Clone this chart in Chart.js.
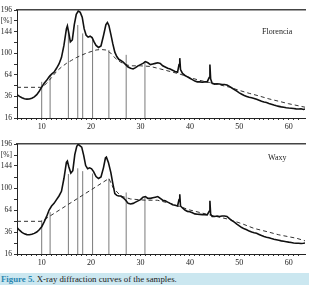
<!DOCTYPE html>
<html>
<head>
<meta charset="utf-8">
<script src="https://cdn.jsdelivr.net/npm/chart.js@4/dist/chart.umd.min.js"></script>
<style>
  html, body { margin: 0; padding: 0; background: #ffffff; }
  body { width: 309px; height: 285px; position: relative; overflow: hidden; font-family: 'Liberation Serif', serif; }
  .box { position: absolute; left: 0; width: 309px; }
  .name { position: absolute; font-size: 8px; color: #222; font-family: 'Liberation Serif', serif; }
  #caption { position: absolute; left: 0; top: 273px; width: 309px; height: 12px; background: #cbe7f0;
             font-size: 8.8px; line-height: 12px; color: #1a1a1a; padding-left: 1px; box-sizing: border-box; white-space: nowrap; }
  #caption b { color: #2a86b0; font-weight: bold; }
</style>
</head>
<body>
<div class="box" style="top:0;height:136px;"><canvas id="c1"></canvas></div>
<div class="box" style="top:134px;height:136px;"><canvas id="c2"></canvas></div>
<div class="name" style="left:262px;top:27px;">Florencia</div>
<div class="name" style="left:268px;top:153px;">Waxy</div>
<div id="caption"><b>Figure 5.</b> X-ray diffraction curves of the samples.</div>
<script>
// ---- data (2θ in degrees, intensity in %) ----
const angleFlorencia = [5.0,5.5,6.0,6.5,7.0,7.5,8.0,8.5,9.0,9.5,10.0,10.5,11.0,11.5,12.0,12.5,13.0,13.5,14.0,14.5,15.0,15.2,15.5,15.8,16.2,16.6,17.0,17.4,17.8,18.2,18.6,19.0,19.4,19.8,20.2,20.6,21.0,21.5,22.0,22.5,23.0,23.3,23.6,24.0,24.4,24.8,25.2,25.6,26.0,26.5,27.0,27.5,28.0,28.5,29.0,29.5,30.0,30.5,31.0,31.5,32.0,32.5,33.0,33.5,34.0,34.5,35.0,35.5,36.0,36.5,37.0,37.5,37.8,37.95,38.1,38.5,39.0,39.5,40.0,40.5,41.0,41.5,42.0,42.5,43.0,43.5,43.9,44.05,44.2,44.5,45.0,45.5,46.0,46.5,47.0,47.5,48.0,48.5,49.0,49.5,50.0,50.5,51.0,51.5,52.0,52.5,53.0,53.5,54.0,54.5,55.0,55.5,56.0,56.5,57.0,57.5,58.0,58.5,59.0,59.5,60.0,60.5,61.0,61.5,62.0,62.5,63.0,63.3];
const intensityFlorencia = [38,36,34.5,33.5,33,33.2,34,35.5,38,42,47,52,56,61,65,68,74,81,92,115,150,157,140,122,126,160,185,193,190,178,150,136,132,134,131,122,115,111,114,135,160,165,158,138,118,102,94,89,87,84,80,76,74,73,75,78,80,82,85,83,80,81,82,83,82,78,76,74,73,71,69,68,80,91,72,66,63,61,59,57,55,54,54,53.5,54,54,60,80,58,52,51,51.5,51,50.5,50.5,49.8,48,46,44,42,40,38.5,37,36,35,34.5,33.8,32.8,31.8,30.8,30,29.5,28.6,27.8,27,26.3,25.8,25.3,24.9,24.5,24.2,24,23.8,23.5,23.3,23.6,23,23.4];
const baseAngleFlorencia = [5,10,11,12,13,14,15,16,17,18,19,20,21,22,23,24,25,26,27,28,30,32,34,36,38,40,42,44,46,48,50,52,54,56,58,60,62,63.3];
const baselineFlorencia = [46.8,46.8,52,60,69,76,82,87,92,96,100,103,106,107,106,100,90,84,80,78,78,77,73,69,65,60,56,53,50,47,43,39.5,36.5,33.3,30.8,28.3,26.3,25];

const angleWaxy = [5.0,5.5,6.0,6.5,7.0,7.5,8.0,8.5,9.0,9.5,10.0,10.5,11.0,11.5,12.0,12.5,13.0,13.5,14.0,14.5,15.0,15.2,15.5,15.9,16.3,16.7,17.1,17.4,17.7,18.1,18.5,18.9,19.3,19.7,20.1,20.5,21.0,21.5,22.0,22.5,22.9,23.1,23.5,24.0,24.4,24.8,25.2,25.6,26.0,26.5,27.0,27.5,28.0,28.5,29.0,29.5,30.0,30.5,31.0,31.5,32.0,32.5,33.0,33.5,34.0,34.5,35.0,35.5,36.0,36.5,37.0,37.5,37.8,37.95,38.1,38.5,39.0,39.5,40.0,40.5,41.0,41.5,42.0,42.5,43.0,43.5,43.9,44.05,44.2,44.5,45.0,45.5,46.0,46.5,47.0,47.5,48.0,48.5,49.0,49.5,50.0,50.5,51.0,51.5,52.0,52.5,53.0,53.5,54.0,54.5,55.0,55.5,56.0,56.5,57.0,57.5,58.0,58.5,59.0,59.5,60.0,60.5,61.0,61.5,62.0,62.5,63.0,63.3];
const intensityWaxy = [41,38,35.5,34,33.2,33,33.5,34.5,36,38.5,42,48,55,64,70,74,80,86,94,118,152,155,142,129,134,170,190,195,192,188,168,145,138,140,138,132,122,118,121,140,162,164,152,130,108,90,87,86,86,83,79,74,73,74,76,78,80,84,85,82,82,83,84,85,82,79,78,76,74,72,71,70,80,89,70,67,64,62,61.5,60,58.5,58,57.8,57.5,57.5,57,62,78,58,55,55,55.5,55,55.5,55.5,55,52,49.5,47.5,45,43,41,39.5,38.5,37,36,35.2,34.6,33.4,32.2,31.2,30.5,30,29.2,28.5,28,27.5,27,26.6,26.2,25.8,25.5,25,24.8,24.8,24.5,24.7,25];
const baseAngleWaxy = [5,10,23.6,24.5,26,28,31,33.4,36,40,44,48,50.8,53,55.6,58,61.6,63.3];
const baselineWaxy = [48.6,48.6,118,100,86,81,79,79,74,64,57,51,45,40,36.4,33,29.5,27];

const peakAngles = [10.0,11.7,15.4,17.3,18.3,20.3,23.6,27.1,30.9];
const peakTopsFlorencia = [54,64,144,159,140,126,106,97,86];
const peakTopsWaxy = [50,61,127,139,133,128,118,92,85];

const yTickValues = [16,36,64,100,144,196];
const xTickLabels = [10,20,30,40,50,60];
const yUnitLabel = '[%]';

// ---- helpers ----
Chart.defaults.font.family = "'Liberation Serif', 'Times New Roman', serif";
Chart.defaults.color = '#222';

function pts(xs, ys) { return xs.map((x, i) => ({ x: x, y: Math.sqrt(ys[i]) })); }
function sticks(xs, tops) {
  const out = [];
  xs.forEach((x, i) => { out.push({ x: x, y: Math.sqrt(16) }); out.push({ x: x, y: Math.sqrt(tops[i]) }); out.push({ x: x, y: null }); });
  return out;
}

function makeChart(id, ax, ay, bx, by, tops, padTop, xAxisH) {
  return new Chart(document.getElementById(id), {
    type: 'scatter',
    data: {
      datasets: [
        { data: pts(ax, ay), showLine: true, borderColor: '#111', borderWidth: 1.6, pointRadius: 0, tension: 0 },
        { data: pts(bx, by), showLine: true, borderColor: '#333', borderWidth: 1, borderDash: [4, 3], pointRadius: 0, tension: 0 },
        { data: sticks(peakAngles, tops), showLine: true, spanGaps: false, borderColor: '#7a7a7a', borderWidth: 1, pointRadius: 0 }
      ]
    },
    options: {
      responsive: true,
      maintainAspectRatio: false,
      animation: false,
      events: [],
      layout: { padding: { top: padTop, right: 4, left: 0, bottom: 0 } },
      plugins: { legend: { display: false }, tooltip: { enabled: false } },
      scales: {
        x: {
          type: 'linear', min: 5, max: 63.3,
          afterBuildTicks: s => { s.ticks = s.ticks.filter(t => Number.isInteger(t.value)); },
          afterFit: s => { s.height = xAxisH; },
          ticks: { stepSize: 1, autoSkip: false, maxRotation: 0, padding: 2, font: { size: 8 },
                   callback: v => xTickLabels.includes(v) ? String(v) : '' },
          grid: { drawOnChartArea: false, tickLength: 2, color: '#333', tickColor: '#333' },
          border: { display: true, color: '#222', width: 1 }
        },
        xTop: {
          type: 'linear', position: 'top', min: 5, max: 63.3,
          afterFit: s => { s.height = 0; },
          ticks: { display: false },
          grid: { display: false },
          border: { display: true, color: '#444', width: 1.5 }
        },
        y: {
          type: 'linear', min: 4, max: 14,
          afterFit: s => { s.width = 17; },
          ticks: { stepSize: 1, autoSkip: false, padding: 2, font: { size: 7.5 },
                   callback: v => yTickValues.includes(v * v) ? String(v * v) : (v === 13 ? yUnitLabel : '') },
          grid: { drawOnChartArea: false, tickLength: 3, color: '#333', tickColor: '#333' },
          border: { display: true, color: '#222', width: 1 }
        }
      }
    }
  });
}

makeChart('c1', angleFlorencia, intensityFlorencia, baseAngleFlorencia, baselineFlorencia, peakTopsFlorencia, 10, 18);
makeChart('c2', angleWaxy, intensityWaxy, baseAngleWaxy, baselineWaxy, peakTopsWaxy, 10, 16);
</script>
</body>
</html>
